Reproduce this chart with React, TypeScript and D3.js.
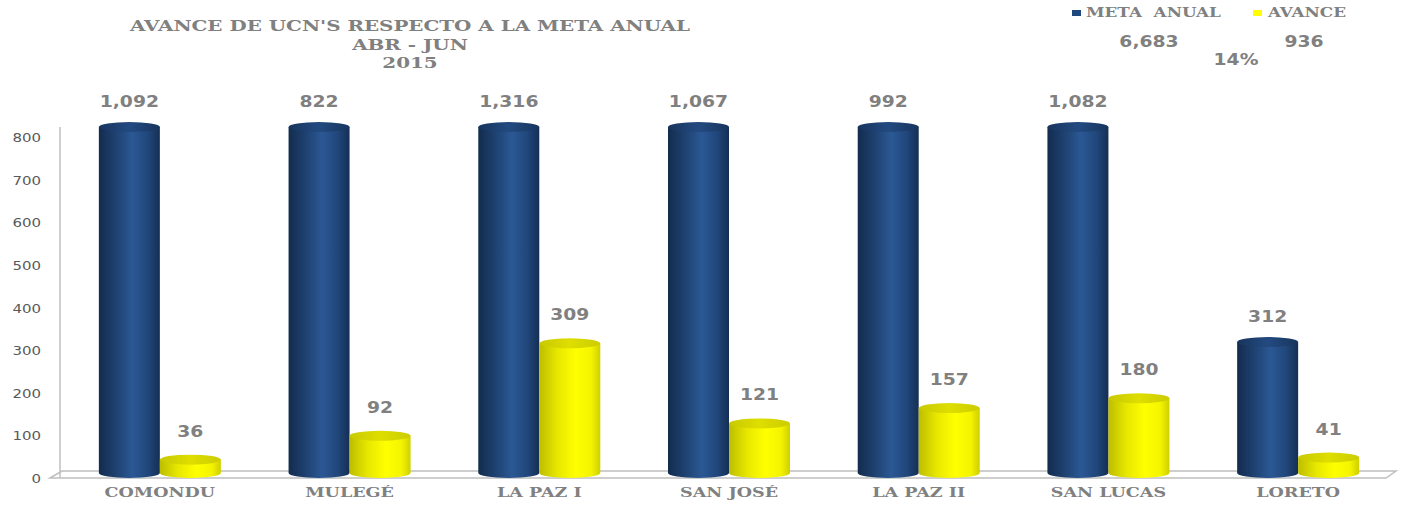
import React from "react";
import * as d3 from "d3";

const categories = ["COMONDU", "MULEGÉ", "LA PAZ I", "SAN JOSÉ", "LA PAZ II", "SAN LUCAS", "LORETO"];
const metaAnual = [1092, 822, 1316, 1067, 992, 1082, 312];
const avance = [36, 92, 309, 121, 157, 180, 41];
const yTicks = [0, 100, 200, 300, 400, 500, 600, 700, 800];
const seriesNames = ["META  ANUAL", "AVANCE"];
const titleLines = ["AVANCE DE UCN'S RESPECTO A LA META ANUAL", "ABR - JUN", "2015"];

const W = 1401;
const H = 507;
const GRAY = "#808080";
const SERIF = "'DejaVu Serif', serif";
const SANS = "'DejaVu Sans', sans-serif";

type TP = {
  x: number; y: number; text: string; size: number; sx?: number;
  weight?: string | number; family?: string; fill?: string; anchor?: "start" | "middle" | "end";
};
const T = ({ x, y, text, size, sx = 1, weight = "bold", family = SANS, fill = GRAY, anchor = "middle" }: TP) => (
  <text
    transform={`translate(${x},${y}) scale(${sx},1)`}
    fontSize={size}
    fontWeight={weight}
    fontFamily={family}
    fill={fill}
    textAnchor={anchor}
    style={{ whiteSpace: "pre" }}
  >
    {text}
  </text>
);

export default function App() {
  const y = d3.scaleLinear().domain([0, 800]).range([478, 137]);
  const x0 = d3.scaleBand<string>().domain(categories).range([65, 1393]).paddingInner(0).paddingOuter(0);
  const x1 = d3.scaleBand<string>().domain(["meta", "avance"]).range([0, x0.bandwidth()]).paddingInner(0).paddingOuter(0.555);
  const capValue = y.invert(130);
  const ry = 5;
  const yBase = y(0) - 5;

  const totalMeta = d3.sum(metaAnual);
  const totalAvance = d3.sum(avance);
  const pct = d3.format(".0%")(totalAvance / totalMeta);
  const fmt = d3.format(",");

  const cylinder = (key: string, cx: number, w: number, v: number, side: string, top: string) => {
    const rx = w / 2;
    const yt = y(Math.min(v, capValue)) - 3;
    const xl = cx - rx;
    const xr = cx + rx;
    const d = `M${xl},${yt} L${xl},${yBase} A${rx},${ry} 0 0 0 ${xr},${yBase} L${xr},${yt} Z`;
    return (
      <g key={key}>
        <path d={d} fill={`url(#${side})`} />
        <ellipse cx={cx} cy={yt} rx={rx} ry={ry} fill={`url(#${top})`} />
      </g>
    );
  };

  return (
    <svg width={W} height={H} style={{ position: "absolute", left: 0, top: 0, background: "#fff" }}>
      <defs>
        <linearGradient id="blueSide" x1="0" x2="1" y1="0" y2="0">
          <stop offset="0%" stopColor="#132c4e" />
          <stop offset="25%" stopColor="#1d3f6d" />
          <stop offset="55%" stopColor="#2b5894" />
          <stop offset="80%" stopColor="#21477c" />
          <stop offset="100%" stopColor="#142f54" />
        </linearGradient>
        <linearGradient id="blueTop" x1="0" x2="1" y1="0" y2="0">
          <stop offset="0%" stopColor="#17355e" />
          <stop offset="50%" stopColor="#234a80" />
          <stop offset="100%" stopColor="#17355e" />
        </linearGradient>
        <linearGradient id="yellowSide" x1="0" x2="1" y1="0" y2="0">
          <stop offset="0%" stopColor="#bdbd00" />
          <stop offset="30%" stopColor="#e8e800" />
          <stop offset="60%" stopColor="#ffff00" />
          <stop offset="85%" stopColor="#f4f400" />
          <stop offset="100%" stopColor="#cfcf00" />
        </linearGradient>
        <linearGradient id="yellowTop" x1="0" x2="1" y1="0" y2="0">
          <stop offset="0%" stopColor="#c9c900" />
          <stop offset="50%" stopColor="#dede00" />
          <stop offset="100%" stopColor="#cccc00" />
        </linearGradient>
      </defs>

      {/* Title */}
      {titleLines.map((t, i) => (
        <T key={t} x={410} y={31 + i * 18.5} text={t} size={14} sx={1.42} family={SERIF} />
      ))}

      {/* Legend */}
      <rect x={1072} y={10} width={9} height={6} fill="#1f497d" />
      <T x={1086} y={17} text={seriesNames[0]} size={12} sx={1.4} family={SERIF} anchor="start" />
      <rect x={1253} y={10} width={9} height={6} fill="#ffff00" />
      <T x={1268} y={17} text={seriesNames[1]} size={12} sx={1.4} family={SERIF} anchor="start" />

      {/* Totals */}
      <T x={1149} y={47} text={fmt(totalMeta)} size={15} sx={1.25} />
      <T x={1304} y={47} text={fmt(totalAvance)} size={15} sx={1.25} />
      <T x={1236} y={65} text={pct} size={15} sx={1.25} />

      {/* Floor */}
      <polygon
        points={`50,${y(0)} 62,${y(0) - 7} 1396,${y(0) - 7} 1386,${y(0)}`}
        fill="#fff"
        stroke="#bfbfbf"
        strokeWidth={1.5}
      />
      {/* Y axis */}
      <line x1={60} x2={60} y1={127} y2={y(0)} stroke="#bfbfbf" strokeWidth={1.5} />
      {yTicks.map((t) => (
        <T key={t} x={41} y={y(t) + 5} text={String(t)} size={12.5} sx={1.2} weight="normal" fill="#595959" anchor="end" />
      ))}

      {/* Bars */}
      {categories.map((c, i) => {
        const bx = x0(c)!;
        const w = x1.bandwidth();
        const cm = bx + x1("meta")! + w / 2;
        const ca = bx + x1("avance")! + w / 2;
        return (
          <g key={c}>
            {cylinder(c + "m", cm, w, metaAnual[i], "blueSide", "blueTop")}
            {cylinder(c + "a", ca, w, avance[i], "yellowSide", "yellowTop")}
          </g>
        );
      })}

      {/* Data labels */}
      {categories.map((c, i) => {
        const bx = x0(c)!;
        const w = x1.bandwidth();
        const cm = bx + x1("meta")! + w / 2;
        const ca = bx + x1("avance")! + w / 2;
        return (
          <g key={c + "l"}>
            <T x={cm} y={y(Math.min(metaAnual[i], capValue)) - 23} text={fmt(metaAnual[i])} size={15} sx={1.25} />
            <T x={ca} y={y(avance[i]) - 26} text={fmt(avance[i])} size={15} sx={1.25} />
          </g>
        );
      })}

      {/* Category labels */}
      {categories.map((c) => (
        <T key={c + "c"} x={x0(c)! + x0.bandwidth() / 2} y={497} text={c} size={13} sx={1.35} family={SERIF} />
      ))}
    </svg>
  );
}
